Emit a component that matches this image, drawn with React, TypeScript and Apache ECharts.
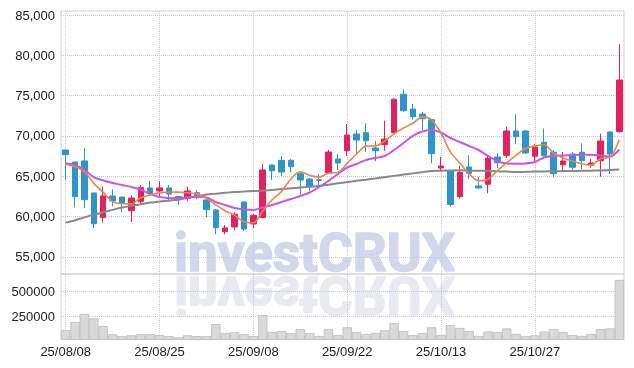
import React, { useEffect, useRef } from 'react';
import * as echarts from 'echarts';

const dates = [
  '25/08/08', '25/08/11', '25/08/12', '25/08/13', '25/08/14', '25/08/18', '25/08/19', '25/08/20', '25/08/21', '25/08/22',
  '25/08/25', '25/08/26', '25/08/27', '25/08/28', '25/08/29', '25/09/01', '25/09/02', '25/09/03', '25/09/04', '25/09/05',
  '25/09/08', '25/09/09', '25/09/10', '25/09/11', '25/09/12', '25/09/15', '25/09/16', '25/09/17', '25/09/18', '25/09/19',
  '25/09/22', '25/09/23', '25/09/24', '25/09/25', '25/09/26', '25/09/29', '25/09/30', '25/10/01', '25/10/02', '25/10/10',
  '25/10/13', '25/10/14', '25/10/15', '25/10/16', '25/10/17', '25/10/20', '25/10/21', '25/10/22', '25/10/23', '25/10/24',
  '25/10/27', '25/10/28', '25/10/29', '25/10/30', '25/10/31', '25/11/03', '25/11/04', '25/11/05', '25/11/06', '25/11/07',
];

const opens = [
  68260, 66770, 66900, 62930, 59890, 62560, 62430, 60730, 61850, 63550,
  63180, 63550, 62490, 62270, 62970, 62060, 60820, 58130, 58710, 61810,
  59080, 59890, 66400, 66980, 66980, 65320, 64660, 64580, 65410, 67140,
  68170, 70240, 70410, 68510, 68920, 70410, 75170, 73340, 72720, 72020,
  66030, 65660, 62470, 66150, 63800, 64010, 67390, 67600, 70620, 70620,
  67480, 69220, 67980, 66440, 67760, 67980, 66360, 66930, 70490, 70530,
];
const closes = [
  67680, 62470, 62100, 59120, 62560, 61940, 61630, 62310, 63590, 62870,
  63550, 62800, 62180, 63180, 62390, 60860, 58630, 58590, 60290, 58460,
  60160, 65780, 65690, 65530, 66190, 64540, 63710, 64500, 68010, 66650,
  70120, 69500, 69410, 68170, 69620, 74550, 73130, 72390, 72140, 67800,
  66280, 61500, 65500, 65370, 63550, 67230, 66690, 70620, 69910, 67890,
  68630, 67550, 65320, 66900, 66120, 66930, 66650, 69380, 67760, 76940,
];
const lows = [
  64500, 61150, 61070, 58550, 59250, 61280, 60570, 59330, 61690, 62560,
  62430, 61940, 61440, 61940, 62150, 59920, 57810, 57810, 58340, 58220,
  58550, 59800, 64540, 65040, 65500, 62770, 63210, 63710, 65280, 65780,
  67520, 67850, 68010, 66860, 68170, 70300, 73030, 72070, 70740, 66610,
  65780, 61230, 62270, 64700, 63490, 62890, 65990, 67270, 69000, 67760,
  66690, 67450, 64880, 65530, 65530, 65900, 66030, 64950, 65280, 70400,
];
const highs = [
  68300, 66800, 68510, 62950, 63710, 63390, 62450, 62640, 63920, 64420,
  64420, 63920, 62550, 63710, 63300, 62150, 60950, 58960, 60540, 61900,
  60320, 66520, 66450, 67520, 67140, 65400, 64800, 65280, 68260, 67760,
  71480, 70740, 71570, 69410, 71890, 74670, 75790, 73960, 72970, 72100,
  67430, 65750, 66310, 67600, 64950, 67520, 67890, 71150, 72690, 70700,
  69000, 70930, 68260, 68010, 68010, 69090, 67180, 70280, 70600, 81370,
];

const ma5 = [
  66500, 66190, 65560, 64120, 63000, 61850, 61600, 61580, 62340, 62680,
  62940, 63050, 63040, 62950, 62820, 62280, 61450, 60730, 60150, 59370,
  59230, 60660, 62080, 63120, 64670, 65550, 65130, 64890, 65390, 65480,
  66600, 67760, 68740, 68770, 69360, 70250, 70980, 71570, 72370, 72000,
  70350, 68020, 66640, 65290, 64440, 64630, 65670, 66690, 67600, 68470,
  68750, 68920, 67860, 67260, 66900, 66560, 66380, 67200, 67370, 69530,
];
const ma10 = [
  66610, 66400, 65780, 64910, 64480, 64170, 63920, 63670, 63360, 62800,
  62430, 62310, 62270, 62400, 62430, 62370, 61810, 61440, 61070, 60880,
  60820, 61130, 61440, 61810, 62180, 62560, 62990, 63670, 64420, 65280,
  66090, 66520, 67020, 67270, 67520, 68260, 69130, 70000, 70550, 70740,
  70430, 69750, 69250, 68760, 68260, 67520, 66900, 66590, 66560, 66590,
  66770, 67330, 67520, 67580, 67640, 67680, 67680, 67580, 67450, 68320,
];
const maLong = [
  59250, 59550, 59900, 60240, 60540, 60830, 61120, 61330, 61540, 61740,
  61860, 61980, 62100, 62320, 62530, 62740, 62840, 62950, 63050, 63100,
  63160, 63210, 63310, 63410, 63510, 63610, 63700, 63800, 63960, 64130,
  64290, 64440, 64580, 64730, 64890, 65050, 65210, 65360, 65510, 65660,
  65690, 65720, 65740, 65710, 65690, 65660, 65620, 65580, 65530, 65550,
  65580, 65600, 65620, 65640, 65660, 65680, 65700, 65720, 65780, 65840,
];

const volumes = [
  115000, 196000, 276000, 232000, 154000, 73000, 54000, 62000, 73000, 73000,
  64000, 54000, 42000, 62000, 54000, 54000, 174000, 85000, 95000, 73000,
  54000, 264000, 95000, 105000, 85000, 124000, 85000, 55000, 125000, 65000,
  142000, 95000, 75000, 85000, 112000, 185000, 105000, 65000, 85000, 142000,
  65000, 165000, 135000, 105000, 55000, 100000, 95000, 131000, 75000, 55000,
  62000, 100000, 125000, 95000, 65000, 55000, 75000, 125000, 131000, 615000,
];

const priceTicks = [55000, 60000, 65000, 70000, 75000, 80000, 85000];
const volumeTicks = [250000, 500000];
const dateTickIndex = [0, 10, 20, 30, 40, 50];

const UP = '#e2215f';
const DOWN = '#2f95c8';
const GRID_LINE = { type: 'dotted', color: '#c3c8de', width: 1 };
const LABEL = { color: '#222', fontSize: 13, fontFamily: 'Liberation Sans, Arial, sans-serif' };

export default function App() {
  const ref = useRef<HTMLDivElement>(null);
  useEffect(() => {
    const chart = echarts.init(ref.current!, null, { renderer: 'svg' });
    const candles = dates.map((_, i) => [opens[i], closes[i], lows[i], highs[i]]);
    chart.setOption({
      animation: false,
      grid: [
        { left: 61, right: 10, top: 11, height: 263, show: true, borderColor: '#d2d2d2', borderWidth: 1 },
        { left: 61, right: 10, top: 274, height: 65.5, show: true, borderColor: '#d2d2d2', borderWidth: 1 },
      ],
      xAxis: [
        {
          type: 'category', gridIndex: 0, data: dates, boundaryGap: true,
          axisLine: { show: false },
          axisTick: { show: false, customValues: dateTickIndex, alignWithLabel: true },
          axisLabel: { show: false },
          splitLine: { show: true, alignWithLabel: true, lineStyle: GRID_LINE },
        },
        {
          type: 'category', gridIndex: 1, data: dates, boundaryGap: true,
          axisLine: { show: false },
          axisTick: { show: false, customValues: dateTickIndex, alignWithLabel: true },
          axisLabel: { ...LABEL, customValues: dateTickIndex, margin: 5 },
          splitLine: { show: true, alignWithLabel: true, lineStyle: GRID_LINE },
        },
      ],
      yAxis: [
        {
          type: 'value', gridIndex: 0, min: 52880, max: 85500,
          axisLine: { show: false },
          axisTick: { show: false, customValues: priceTicks },
          axisLabel: { ...LABEL, customValues: priceTicks, margin: 6, formatter: (v: number) => v.toLocaleString('en-US') },
          splitLine: { show: true, lineStyle: GRID_LINE },
        },
        {
          type: 'value', gridIndex: 1, min: 20000, max: 675000,
          axisLine: { show: false },
          axisTick: { show: false, customValues: volumeTicks },
          axisLabel: { ...LABEL, customValues: volumeTicks, margin: 6, formatter: (v: number) => String(v) },
          splitLine: { show: true, lineStyle: GRID_LINE },
        },
      ],
      graphic: [
        {
          type: 'text', x: 0, y: 0, z: -10, silent: true,
          style: { text: 'investCRUX', x: 174, y: 226, font: 'bold 53px Roboto', fill: '#d2d7e9', stroke: '#d2d7e9', lineWidth: 1.6 },
        },
        {
          type: 'text', x: 0, y: 0, z: -10, silent: true, scaleY: -1, originX: 0, originY: 273.8,
          style: { text: 'investCRUX', x: 174, y: 226, font: 'bold 53px Roboto', fill: '#e9eaf1', stroke: '#e9eaf1', lineWidth: 1.6 },
        },
      ],
      series: [
        {
          type: 'candlestick', name: 'price', xAxisIndex: 0, yAxisIndex: 0, data: candles, barWidth: 6,
          itemStyle: { color: UP, color0: DOWN, borderColor: UP, borderColor0: DOWN, borderWidth: 1 },
          z: 2,
        },
        { type: 'line', name: 'MA long', xAxisIndex: 0, yAxisIndex: 0, data: maLong, symbol: 'none', smooth: 0.3, lineStyle: { color: '#888888', width: 2 }, z: 3 },
        { type: 'line', name: 'MA10', xAxisIndex: 0, yAxisIndex: 0, data: ma10, symbol: 'none', smooth: 0.3, lineStyle: { color: '#c955e6', width: 2 }, z: 4 },
        { type: 'line', name: 'MA5', xAxisIndex: 0, yAxisIndex: 0, data: ma5, symbol: 'none', smooth: 0.3, lineStyle: { color: '#ee8548', width: 1.6 }, z: 5 },
        {
          type: 'bar', name: 'volume', xAxisIndex: 1, yAxisIndex: 1, data: volumes, barCategoryGap: '0%',
          itemStyle: { color: '#d9d9d9', borderColor: '#bdbdbd', borderWidth: 0.8 },
        },
      ],
    });
    return () => chart.dispose();
  }, []);
  return <div ref={ref} style={{ position: 'fixed', left: 0, top: 0, width: 634, height: 368 }} />;
}
